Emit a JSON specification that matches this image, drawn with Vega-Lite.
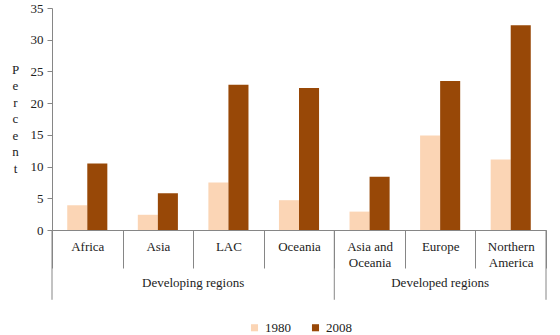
{
  "$schema": "https://vega.github.io/schema/vega-lite/v6.json",
  "width": 494,
  "height": 222,
  "autosize": {"type": "none"},
  "padding": {"left": 52, "top": 8, "right": 14, "bottom": 105},
  "background": "white",
  "config": {
    "view": {"stroke": null},
    "font": "Times New Roman, Liberation Serif, serif",
    "text": {"font": "Times New Roman, Liberation Serif, serif"},
    "axis": {"labelFont": "Times New Roman, Liberation Serif, serif", "titleFont": "Times New Roman, Liberation Serif, serif"},
    "legend": {"labelFont": "Times New Roman, Liberation Serif, serif"},
    "axisY": {
      "values": [0, 5, 10, 15, 20, 25, 30, 35], "grid": false,
      "domainColor": "#868686", "tickColor": "#868686", "tickSize": 5,
      "labelFontSize": 13, "labelColor": "#222222", "labelPadding": 4,
      "titleAngle": 0, "titleX": -37, "titleY": 55,
      "titleAlign": "center", "titleBaseline": "top", "titleFontSize": 13, "titleFontWeight": "normal",
      "titleLineHeight": 16.5, "titleColor": "#222222"
    }
  },
  "layer": [
    {
      "data": {"values": [
        {"region": "Africa", "year": "1980", "value": 3.9},
        {"region": "Africa", "year": "2008", "value": 10.5},
        {"region": "Asia", "year": "1980", "value": 2.4},
        {"region": "Asia", "year": "2008", "value": 5.8},
        {"region": "LAC", "year": "1980", "value": 7.5},
        {"region": "LAC", "year": "2008", "value": 22.9},
        {"region": "Oceania", "year": "1980", "value": 4.7},
        {"region": "Oceania", "year": "2008", "value": 22.4},
        {"region": "Asia and Oceania", "year": "1980", "value": 2.9},
        {"region": "Asia and Oceania", "year": "2008", "value": 8.4},
        {"region": "Europe", "year": "1980", "value": 14.9},
        {"region": "Europe", "year": "2008", "value": 23.5},
        {"region": "Northern America", "year": "1980", "value": 11.1},
        {"region": "Northern America", "year": "2008", "value": 32.3}
      ]},
      "mark": {"type": "bar"},
      "encoding": {
        "x": {
          "field": "region", "type": "nominal",
          "scale": {"domain": ["Africa", "Asia", "LAC", "Oceania", "Asia and Oceania", "Europe", "Northern America"], "paddingInner": 0, "paddingOuter": 0},
          "axis": {
            "title": null, "tickBand": "extent", "tickSize": 38, "labelPadding": -28,
            "labelBaseline": "top", "labelFontSize": 13, "labelLineHeight": 16, "labelAngle": 0,
            "labelExpr": "datum.label == 'Asia and Oceania' ? ['Asia and', 'Oceania'] : datum.label == 'Northern America' ? ['Northern', 'America'] : datum.label",
            "domainColor": "#868686", "tickColor": "#868686", "labelColor": "#222222"
          }
        },
        "xOffset": {"field": "year", "type": "nominal", "scale": {"paddingInner": 0, "paddingOuter": 0.76}},
        "y": {
          "field": "value", "type": "quantitative",
          "scale": {"domain": [0, 35], "nice": false},
          "axis": {"title": ["P", "e", "r", "c", "e", "n", "t"], "values": [0, 5, 10, 15, 20, 25, 30, 35]}
        },
        "color": {
          "field": "year", "type": "nominal",
          "scale": {"domain": ["1980", "2008"], "range": ["#FBD5B5", "#984807"]},
          "legend": {
            "orient": "none", "legendX": 196, "legendY": 313, "direction": "horizontal", "title": null,
            "symbolType": "square", "symbolSize": 50, "labelFontSize": 13, "columnPadding": 18,
            "symbolStrokeWidth": 0, "labelColor": "#222222"
          }
        }
      }
    },
    {
      "data": {"values": [{"region": "Africa"}, {"region": "Asia and Oceania"}]},
      "mark": {"type": "rule", "color": "#868686", "strokeWidth": 1},
      "encoding": {
        "x": {"field": "region", "type": "nominal", "bandPosition": 0},
        "y": {"datum": -11, "type": "quantitative", "axis": {"title": ["P", "e", "r", "c", "e", "n", "t"], "values": [0, 5, 10, 15, 20, 25, 30, 35]}},
        "y2": {"datum": 0}
      }
    },
    {
      "data": {"values": [{"region": "Northern America"}]},
      "mark": {"type": "rule", "color": "#868686", "strokeWidth": 1},
      "encoding": {
        "x": {"field": "region", "type": "nominal", "bandPosition": 1},
        "y": {"datum": -11, "type": "quantitative", "axis": {"title": ["P", "e", "r", "c", "e", "n", "t"], "values": [0, 5, 10, 15, 20, 25, 30, 35]}},
        "y2": {"datum": 0}
      }
    },
    {
      "data": {"values": [{"region": "LAC", "label": "Developing regions"}]},
      "mark": {"type": "text", "fontSize": 13, "color": "#222222", "baseline": "middle", "align": "center"},
      "encoding": {
        "x": {"field": "region", "type": "nominal", "bandPosition": 0},
        "y": {"datum": -8.4, "type": "quantitative", "axis": {"title": ["P", "e", "r", "c", "e", "n", "t"], "values": [0, 5, 10, 15, 20, 25, 30, 35]}},
        "text": {"field": "label"}
      }
    },
    {
      "data": {"values": [{"region": "Europe", "label": "Developed regions"}]},
      "mark": {"type": "text", "fontSize": 13, "color": "#222222", "baseline": "middle", "align": "center"},
      "encoding": {
        "x": {"field": "region", "type": "nominal", "bandPosition": 0.5},
        "y": {"datum": -8.4, "type": "quantitative", "axis": {"title": ["P", "e", "r", "c", "e", "n", "t"], "values": [0, 5, 10, 15, 20, 25, 30, 35]}},
        "text": {"field": "label"}
      }
    }
  ]
}
